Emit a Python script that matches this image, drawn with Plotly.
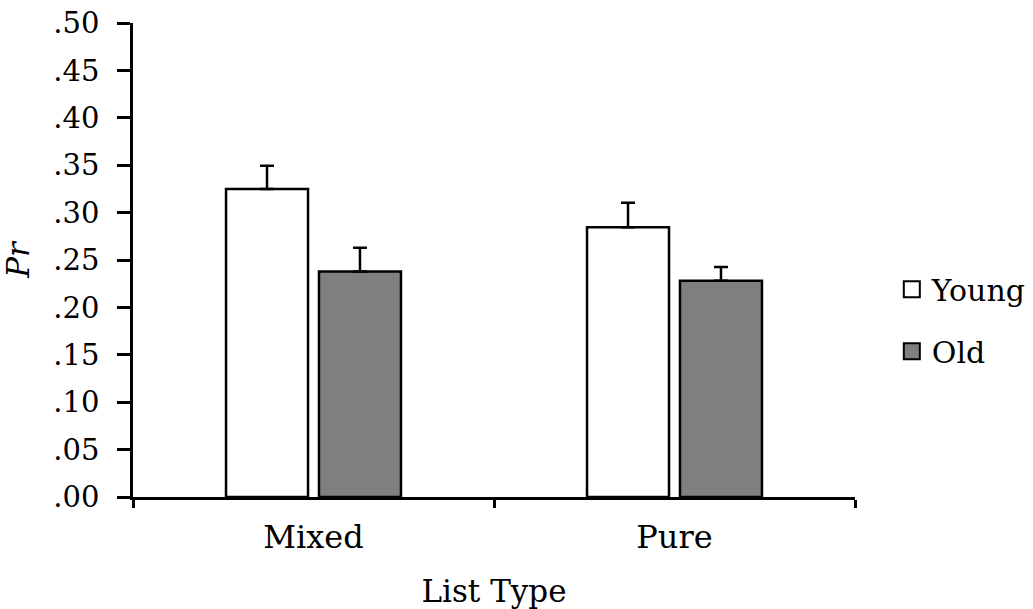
import plotly.graph_objects as go

categories = ["Mixed", "Pure"]
series_names = ["Young", "Old"]
young_values = [0.325, 0.2845]
old_values = [0.238, 0.228]
young_err = [0.0245, 0.026]
old_err = [0.025, 0.0145]
y_tickvals = [0.00, 0.05, 0.10, 0.15, 0.20, 0.25, 0.30, 0.35, 0.40, 0.45, 0.50]
y_ticktext = [".00", ".05", ".10", ".15", ".20", ".25", ".30", ".35", ".40", ".45", ".50"]

FONT = "DejaVu Serif"
colors = ["#ffffff", "#7f7f7f"]

fig = go.Figure()
for name, vals, errs, col in [
    (series_names[0], young_values, young_err, colors[0]),
    (series_names[1], old_values, old_err, colors[1]),
]:
    fig.add_trace(go.Bar(
        x=categories, y=vals, name=name, showlegend=False,
        marker=dict(color=col, line=dict(color="black", width=2.5)),
        error_y=dict(type="data", array=errs, arrayminus=[0] * len(errs),
                     symmetric=False, color="black", thickness=2.5, width=7),
    ))
    fig.add_trace(go.Scatter(
        x=[None], y=[None], mode="markers", name=name, legendgroup=name,
        marker=dict(symbol="square", size=20, color=col,
                    line=dict(color="black", width=2)),
    ))

fig.update_layout(
    width=1033, height=609,
    margin=dict(l=133, r=178, t=23, b=112, autoexpand=False),
    paper_bgcolor="white", plot_bgcolor="white",
    font=dict(family=FONT, size=30, color="black"),
    barmode="group", bargap=0.485, bargroupgap=0.118,
    legend=dict(x=1.051, xanchor="left", y=0.373, yanchor="middle",
                font=dict(family=FONT, size=30, color="black"),
                itemwidth=30, tracegroupgap=20, bgcolor="rgba(0,0,0,0)"),
)
fig.update_xaxes(
    type="category", tickson="boundaries", ticks="outside", ticklen=8,
    tickwidth=2.5, tickcolor="black", showline=True, linecolor="black",
    linewidth=2.5, showgrid=False, zeroline=False, automargin=False,
    ticklabelstandoff=10,
    tickfont=dict(family=FONT, size=32),
    title=dict(text="List Type", font=dict(family=FONT, size=31), standoff=33),
)
fig.update_yaxes(
    range=[0, 0.5], tickvals=y_tickvals, ticktext=y_ticktext,
    ticks="outside", ticklen=13, tickwidth=2.5, tickcolor="black",
    showline=True, linecolor="black", linewidth=2.5, showgrid=False,
    zeroline=False, ticklabelstandoff=12, automargin=False,
    ticklabeloverflow="allow",
    tickfont=dict(family=FONT, size=29),
    title=dict(text="<i>Pr</i>", font=dict(family=FONT, size=31), standoff=22),
)

fig.write_html(
    "out.html",
    config={"displayModeBar": False},
    post_script="document.body.style.margin='0';document.body.style.overflow='hidden';",
)
